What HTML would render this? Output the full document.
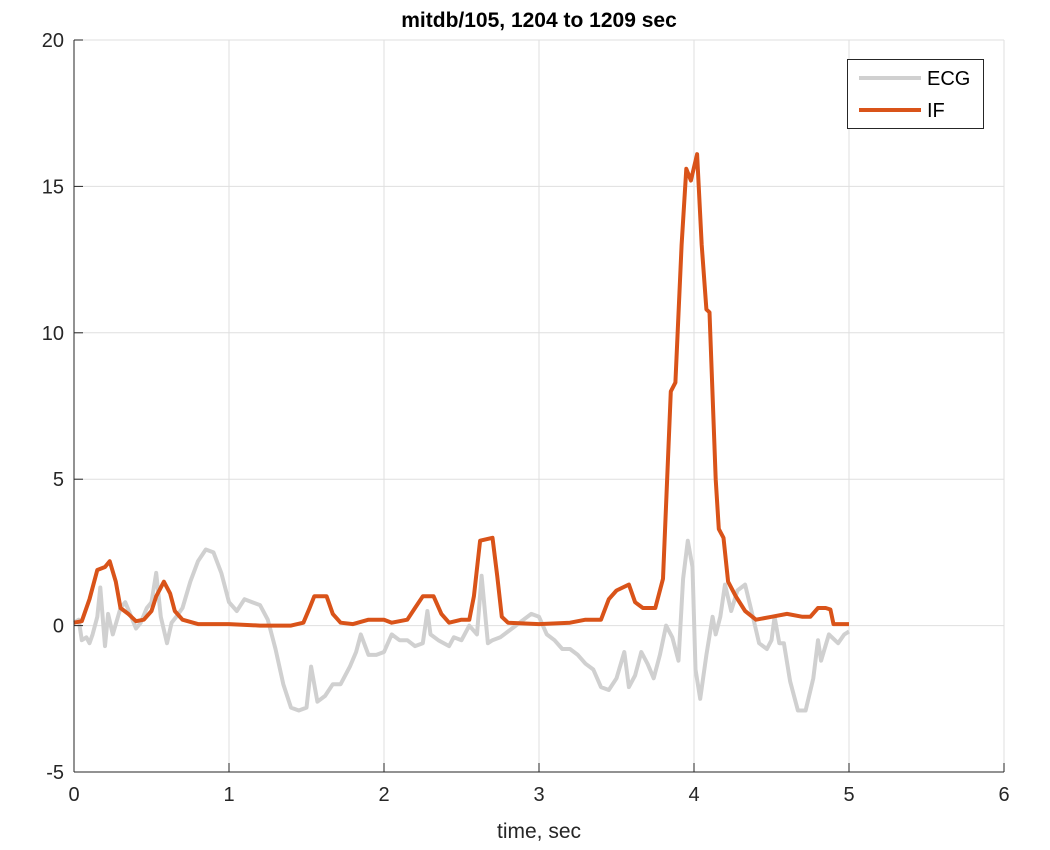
<!DOCTYPE html>
<html><head><meta charset="utf-8"><style>
body{margin:0;background:#fff;}
svg{display:block;font-family:"Liberation Sans",sans-serif;}
</style></head><body>
<svg id="chart" width="1050" height="850">
<rect width="1050" height="850" fill="#fff"/>
<g id="grid"></g>
<g id="series"></g>
<g id="axes"></g>
<text x="539" y="27" text-anchor="middle" font-size="21" font-weight="bold" fill="#000">mitdb/105, 1204 to 1209 sec</text>
<text x="539" y="838" text-anchor="middle" font-size="21" fill="#262626">time, sec</text>
<g>
<rect x="847.5" y="59.5" width="136" height="69" fill="#fff" stroke="#262626" stroke-width="1"/>
<line x1="859" y1="78" x2="921" y2="78" stroke="#d0d0d0" stroke-width="4"/>
<text x="927" y="85" font-size="20" fill="#000">ECG</text>
<line x1="859" y1="110" x2="921" y2="110" stroke="#d95319" stroke-width="4"/>
<text x="927" y="117" font-size="20" fill="#000">IF</text>
</g>
</svg>
<script>
const xTicks=[0,1,2,3,4,5,6];
const yTicks=[-5,0,5,10,15,20];
const ecgT=[0,0.03,0.05,0.08,0.1,0.12,0.15,0.17,0.2,0.22,0.25,0.3,0.33,0.37,0.4,0.43,0.47,0.5,0.53,0.56,0.6,0.63,0.66,0.7,0.75,0.8,0.85,0.9,0.95,1.0,1.05,1.1,1.15,1.2,1.25,1.3,1.35,1.4,1.45,1.5,1.53,1.57,1.62,1.67,1.72,1.78,1.82,1.85,1.9,1.95,2.0,2.05,2.1,2.15,2.2,2.25,2.28,2.3,2.35,2.42,2.45,2.5,2.55,2.6,2.63,2.67,2.7,2.75,2.8,2.85,2.9,2.95,3.0,3.05,3.1,3.15,3.2,3.25,3.3,3.35,3.4,3.45,3.5,3.55,3.58,3.62,3.66,3.7,3.74,3.78,3.82,3.86,3.9,3.93,3.96,3.99,4.01,4.04,4.08,4.12,4.14,4.17,4.2,4.24,4.28,4.33,4.38,4.42,4.47,4.5,4.52,4.55,4.58,4.62,4.67,4.72,4.77,4.8,4.82,4.87,4.93,4.97,5.0];
const ecgV=[0.1,0.2,-0.5,-0.4,-0.6,-0.3,0.3,1.3,-0.7,0.4,-0.3,0.6,0.8,0.3,-0.1,0.1,0.6,0.8,1.8,0.3,-0.6,0.1,0.3,0.6,1.5,2.2,2.6,2.5,1.8,0.8,0.5,0.9,0.8,0.7,0.2,-0.8,-2.0,-2.8,-2.9,-2.8,-1.4,-2.6,-2.4,-2.0,-2.0,-1.4,-0.9,-0.3,-1.0,-1.0,-0.9,-0.3,-0.5,-0.5,-0.7,-0.6,0.5,-0.3,-0.5,-0.7,-0.4,-0.5,0,-0.3,1.7,-0.6,-0.5,-0.4,-0.2,0,0.2,0.4,0.3,-0.3,-0.5,-0.8,-0.8,-1.0,-1.3,-1.5,-2.1,-2.2,-1.8,-0.9,-2.1,-1.7,-0.9,-1.3,-1.8,-1.0,0,-0.4,-1.2,1.6,2.9,2.0,-1.5,-2.5,-1.0,0.3,-0.3,0.3,1.4,0.5,1.2,1.4,0.3,-0.6,-0.8,-0.5,0.3,-0.6,-0.6,-1.9,-2.9,-2.9,-1.8,-0.5,-1.2,-0.3,-0.6,-0.3,-0.2];
const ifT=[0,0.05,0.1,0.15,0.2,0.23,0.27,0.3,0.35,0.4,0.45,0.5,0.53,0.58,0.62,0.65,0.7,0.8,1.0,1.2,1.4,1.48,1.52,1.55,1.63,1.67,1.72,1.8,1.9,2.0,2.05,2.15,2.2,2.25,2.32,2.37,2.42,2.5,2.55,2.58,2.62,2.7,2.73,2.76,2.8,3.0,3.2,3.3,3.4,3.45,3.5,3.58,3.62,3.67,3.75,3.8,3.85,3.88,3.92,3.95,3.98,4.02,4.05,4.08,4.1,4.14,4.16,4.19,4.22,4.27,4.33,4.4,4.5,4.6,4.7,4.75,4.8,4.85,4.88,4.9,5.0];
const ifV=[0.1,0.15,0.9,1.9,2.0,2.2,1.5,0.6,0.4,0.15,0.2,0.5,1.0,1.5,1.1,0.5,0.2,0.05,0.05,0.0,0.0,0.1,0.6,1.0,1.0,0.4,0.1,0.05,0.2,0.2,0.1,0.2,0.6,1.0,1.0,0.4,0.1,0.2,0.2,1.0,2.9,3.0,1.7,0.3,0.1,0.05,0.1,0.2,0.2,0.9,1.2,1.4,0.8,0.6,0.6,1.6,8.0,8.3,13.0,15.6,15.2,16.1,13.0,10.8,10.7,5.0,3.3,3.0,1.5,1.0,0.5,0.2,0.3,0.4,0.3,0.3,0.6,0.6,0.55,0.05,0.05];

const NS="http://www.w3.org/2000/svg";
const X0=74,X1=1004,Y0=772,Y1=40;
const xs=t=>X0+(t-0)/(6-0)*(X1-X0);
const ys=v=>Y0-(v+5)/25*(Y0-Y1);
function mk(tag,attrs,parent){const e=document.createElementNS(NS,tag);for(const k in attrs)e.setAttribute(k,attrs[k]);parent.appendChild(e);return e;}
const grid=document.getElementById('grid'),axes=document.getElementById('axes'),series=document.getElementById('series');
xTicks.forEach(t=>{
  const l=mk('line',{x1:xs(t),x2:xs(t),y1:Y1,y2:Y0,stroke:'#dfdfdf','stroke-width':1},grid);
  
  
  const k=mk('line',{x1:xs(t),x2:xs(t),y1:Y0,y2:Y0-9,stroke:'#262626','stroke-width':1},axes);
  
  
  const tx=mk('text',{x:xs(t),y:Y0+29,'text-anchor':'middle','font-size':20,fill:'#262626'},axes);
  tx.textContent=t;
  
  
});
yTicks.forEach(v=>{
  const l=mk('line',{x1:X0,x2:X1,y1:ys(v),y2:ys(v),stroke:'#dfdfdf','stroke-width':1},grid);
  
  
  const k=mk('line',{x1:X0,x2:X0+9,y1:ys(v),y2:ys(v),stroke:'#262626','stroke-width':1},axes);
  
  
  const tx=mk('text',{x:X0-10,y:ys(v)+7,'text-anchor':'end','font-size':20,fill:'#262626'},axes);
  tx.textContent=v;
  
  
});
const xa=mk('line',{x1:X0,x2:X1,y1:Y0,y2:Y0,stroke:'#262626','stroke-width':1},axes);


const ya=mk('line',{x1:X0,x2:X0,y1:Y1,y2:Y0,stroke:'#262626','stroke-width':1},axes);


function pts(T,V){return T.map((t,i)=>xs(t).toFixed(1)+','+ys(V[i]).toFixed(1)).join(' ');}
const ecg=mk('polyline',{points:pts(ecgT,ecgV),fill:'none',stroke:'#d0d0d0','stroke-width':4,'stroke-linejoin':'round'},series);


const iff=mk('polyline',{points:pts(ifT,ifV),fill:'none',stroke:'#d95319','stroke-width':4,'stroke-linejoin':'round'},series);


</script>
</body></html>
